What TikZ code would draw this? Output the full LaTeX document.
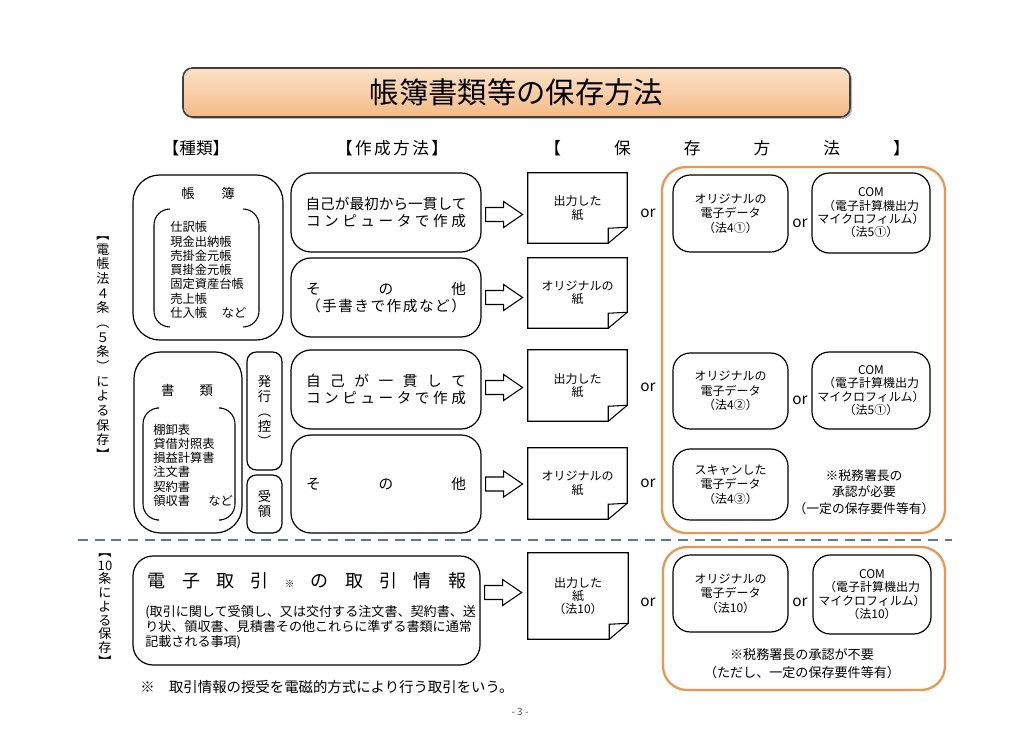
\documentclass[tikz,border=0pt]{standalone}
\usepackage{fontspec}
\setmainfont{Noto Sans CJK JP}
\usetikzlibrary{calc,shadows}

\definecolor{titlelight}{RGB}{253,226,200}
\definecolor{titledark}{RGB}{245,186,134}
\definecolor{keeporange}{RGB}{233,150,82}
\definecolor{dashblue}{RGB}{86,124,152}

% sheet of paper with a folded corner round a node
\newcommand{\papersheet}[1]{%
  \draw[line width=0.8pt] (#1.north west) -- (#1.north east)
    -- ($(#1.south east)+(0,-16)$) -- ($(#1.south east)+(-19,0)$)
    -- (#1.south west) -- cycle;
  \draw[line width=0.8pt] ($(#1.south east)+(0,-16)$)
    -- ($(#1.south east)+(-19,-15)$) -- ($(#1.south east)+(-19,0)$);}
% hollow block arrow starting at a point
\newcommand{\hollowarrow}[1]{%
  \draw[line width=0.8pt,fill=white] (#1) ++(0,-7) -- ++(18,0) -- ++(0,-6)
    -- ++(19,13) -- ++(-19,13) -- ++(0,-6) -- ++(-18,0) -- cycle;}

\begin{document}
\begin{tikzpicture}[x=0.75pt,y=-0.75pt,
spot/.style args={#1/#2/#3/#4}{at={({(#1+#3)/2},{(#2+#4)/2})},minimum width={(#3-#1)*0.75pt},minimum height={(#4-#2)*0.75pt}},
title box/.style={draw=black!75,line width=1.2pt,rounded corners=7,top color=titlelight,bottom color=titledark,
  drop shadow={shadow xshift=1.5pt,shadow yshift=-1.5pt,opacity=0.55},inner sep=0pt,font=\fontsize{22}{24}\selectfont},
header/.style={font=\fontsize{12.5}{14}\selectfont,inner sep=0pt},
kind box/.style={draw,line width=0.9pt,rounded corners=20,inner sep=0pt},
slim box/.style={draw,line width=0.9pt,rounded corners=7,inner sep=0pt,align=center,font=\fontsize{10}{11.2}\selectfont},
make box/.style={draw,line width=0.9pt,rounded corners=15,inner sep=0pt,align=center,font=\fontsize{11}{12.5}\selectfont},
paper/.style={inner sep=0pt,align=center,font=\fontsize{9}{10}\selectfont},
keep box/.style={draw,line width=0.9pt,rounded corners=13,inner sep=0pt,align=center,font=\fontsize{9}{11}\selectfont},
com box/.style={keep box,font=\fontsize{9}{10}\selectfont},
orange frame/.style={draw=keeporange,line width=1.7pt,rounded corners=18,inner sep=0pt},
or text/.style={font=\fontsize{11.5}{12}\selectfont,inner sep=0pt},
list text/.style={align=left,inner sep=0pt,font=\fontsize{9.2}{10.7}\selectfont},
side text/.style={align=center,inner sep=0pt,font=\fontsize{9.8}{11}\selectfont}]
\fill[white] (0,0) rectangle (1036,731);
\useasboundingbox (0,0) rectangle (1036,731);

% title
\node[title box,spot=183/68/850/117] (title) {帳簿書類等の保存方法};

% column headers
\node[header] (hdrkind) at (196,148) {【種類】};
\node[header] (hdrmake) at (392,148) {\makebox[84pt]{【\hfill 作\hfill 成\hfill 方\hfill 法\hfill 】}};
\node[header] (hdrkeep) at (727,148) {\makebox[274pt]{【\hfill 保\hfill 存\hfill 方\hfill 法\hfill 】}};

% side labels
\node[side text] (law4) at (103,348) {︻\\電\\帳\\法\\４\\条\\︵\\５\\条\\︶\\に\\よ\\る\\保\\存\\︼};
\node[side text,font=\fontsize{9.8}{10.3}\selectfont] (law10) at (105,610) {︻\\10\\条\\に\\よ\\る\\保\\存\\︼};

% kinds
\node[kind box,spot=133/175/283/340] (ledger) {};
\node[inner sep=0pt,font=\fontsize{10}{11}\selectfont] (ledgername) at (208,193) {帳\hspace{20pt}簿};
\draw[line width=0.8pt,rounded corners=12] (170,209) -| (154,327) -- (170,327);
\draw[line width=0.8pt,rounded corners=12] (243,209) -| (259,327) -- (243,327);
\node[list text,anchor=west] (ledgerlist) at (170,270) {仕訳帳\\現金出納帳\\売掛金元帳\\買掛金元帳\\固定資産台帳\\売上帳\\仕入帳\hspace{1.2em}など};

\node[kind box,spot=134/352/242/533] (documents) {};
\node[inner sep=0pt,font=\fontsize{10}{11}\selectfont] (documentsname) at (187,390) {書\hspace{19pt}類};
\draw[line width=0.8pt,rounded corners=12] (157,408) -| (143,520) -- (157,520);
\draw[line width=0.8pt,rounded corners=12] (221,408) -| (235,520) -- (221,520);
\node[list text,anchor=west] (documentslist) at (153,465) {棚卸表\\貸借対照表\\損益計算書\\注文書\\契約書\\領収書\hspace{1.5em}など};

\node[slim box,spot=247/352/282/470] (issued) {発\\行\\︵\\控\\︶};
\node[slim box,spot=247/475/282/533] (received) {受\\領};

% ways of making
\node[make box,spot=291/173/481/252] (make1) {自己が最初から一貫して\\\makebox[120pt]{コ\hfill ン\hfill ピ\hfill ュ\hfill ー\hfill タ\hfill で\hfill 作\hfill 成}};
\node[make box,spot=291/258/481/337] (make2) {\makebox[120pt]{そ\hfill の\hfill 他}\\\makebox[120pt]{（\hfill 手\hfill 書\hfill き\hfill で\hfill 作\hfill 成\hfill な\hfill ど\hfill ）}};
\node[make box,spot=291/350/481/429] (make3) {\makebox[120pt]{自\hfill 己\hfill が\hfill 一\hfill 貫\hfill し\hfill て}\\\makebox[120pt]{コ\hfill ン\hfill ピ\hfill ュ\hfill ー\hfill タ\hfill で\hfill 作\hfill 成}};
\node[make box,spot=291/435/481/533] (make4) {\makebox[120pt]{そ\hfill の\hfill 他}};

\node[make box,spot=133/556/480/665] (trade) {};
\node[inner sep=0pt,font=\fontsize{13.5}{15}\selectfont] (tradehead) at (307,581) {\makebox[239pt]{電\hfill 子\hfill 取\hfill 引\hfill {\fontsize{7}{8}\selectfont ※}\hfill の\hfill 取\hfill 引\hfill 情\hfill 報}};
\node[list text,anchor=west,font=\fontsize{9.8}{11.2}\selectfont] (tradenote) at (145,627) {(取引に関して受領し、又は交付する注文書、契約書、送\\り状、領収書、見積書その他これらに準ずる書類に通常\\記載される事項)};
\node[anchor=west,inner sep=0pt,font=\fontsize{10.8}{12}\selectfont] (footnote) at (140,687) {※\hspace{1em}取引情報の授受を電磁的方式により行う取引をいう。};

% arrows
\hollowarrow{$(make1.east)+(4,2)$}
\hollowarrow{$(make2.east)+(4,0)$}
\hollowarrow{$(make3.east)+(4,-2)$}
\hollowarrow{$(make4.east)+(4,0)$}
\hollowarrow{$(trade.east)+(4,-18)$}

% paper
\node[paper,spot=528/173/627/243] (out1) {出力した\\紙};
\papersheet{out1}
\node[paper,spot=528/258/627/328] (orig1) {オリジナルの\\紙};
\papersheet{orig1}
\node[paper,spot=528/350/627/421] (out2) {出力した\\紙};
\papersheet{out2}
\node[paper,spot=528/448/627/519] (orig2) {オリジナルの\\紙};
\papersheet{orig2}
\node[paper,spot=528/553/628/639] (out3) {出力した\\紙\\（法10）};
\papersheet{out3}

\node[or text] (or1) at (648,213) {or};
\node[or text] (or3) at (648,387) {or};
\node[or text] (or4) at (648,483) {or};
\node[or text] (or5) at (648,602) {or};

% electronic keeping
\node[orange frame,spot=662/167/945/533] (keep1) {};
\node[orange frame,spot=663/547/945/690] (keep2) {};

\node[keep box,spot=673/175/788/252] (elec1) {オリジナルの\\電子データ\\（法4①）};
\node[com box,spot=812/173/930/253] (com1) {COM\\（電子計算機出力\\マイクロフィルム）\\（法5①）};
\node[or text] (or1b) at (800,223) {or};

\node[keep box,spot=673/353/788/429] (elec2) {オリジナルの\\電子データ\\（法4②）};
\node[com box,spot=812/352/930/429] (com2) {COM\\（電子計算機出力\\マイクロフィルム）\\（法5①）};
\node[or text] (or3b) at (800,400) {or};

\node[keep box,spot=673/449/788/520] (scan) {スキャンした\\電子データ\\（法4③）};
\node[align=center,inner sep=0pt,font=\fontsize{9.6}{12.4}\selectfont] (approval1) at (864,492) {※税務署長の\\承認が必要\\（一定の保存要件等有）};

\node[keep box,spot=673/555/788/632] (elec3) {オリジナルの\\電子データ\\（法10）};
\node[com box,spot=813/555/931/634] (com3) {COM\\（電子計算機出力\\マイクロフィルム）\\（法10）};
\node[or text] (or5b) at (800,602) {or};
\node[align=center,inner sep=0pt,font=\fontsize{9.8}{13.5}\selectfont] (approval2) at (802,664) {※税務署長の承認が不要\\（ただし、一定の保存要件等有）};

% divider and page number
\draw[dashblue,line width=2.2pt,dash pattern=on 7.5pt off 5pt] (78,540) -- (952,540);
\node[inner sep=0pt,font=\fontsize{7.5}{8}\selectfont,text=black!70] (pageno) at (520,712) {- 3 -};
\end{tikzpicture}
\end{document}
